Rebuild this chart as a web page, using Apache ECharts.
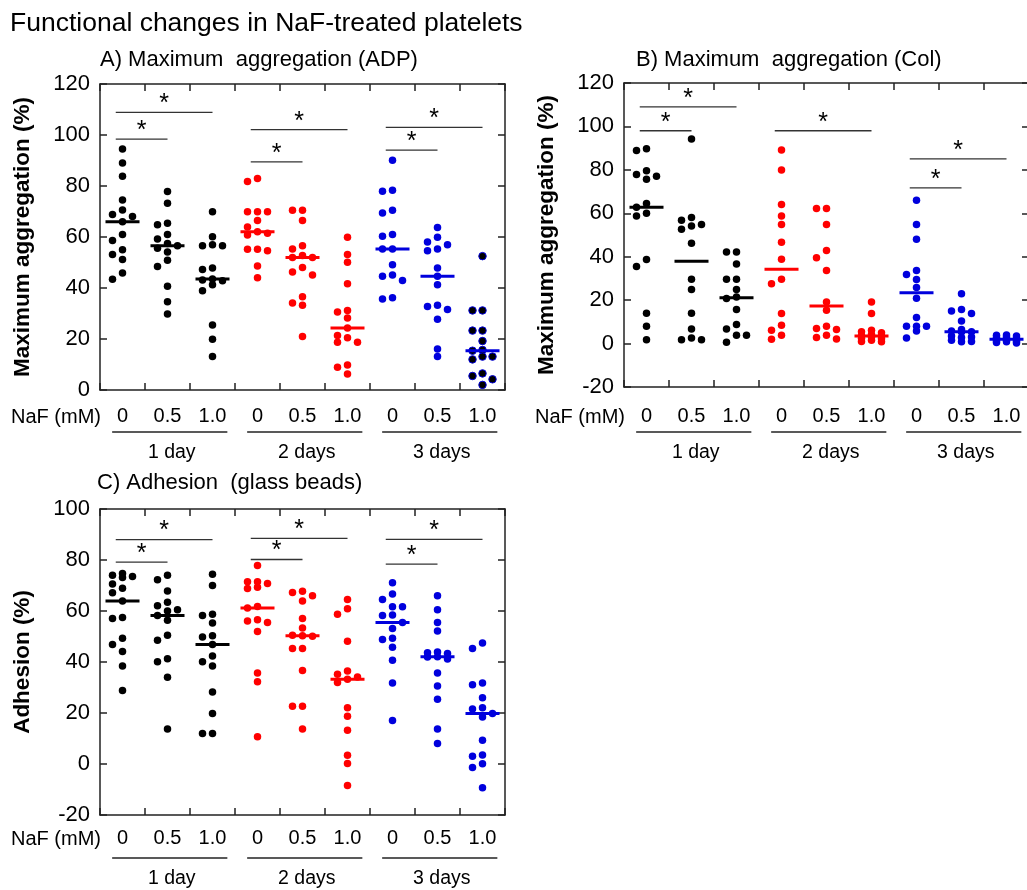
<!DOCTYPE html>
<html>
<head>
<meta charset="utf-8">
<title>Functional changes in NaF-treated platelets</title>
<script src="https://cdn.jsdelivr.net/npm/echarts/dist/echarts.min.js"></script>
<style>
  html, body { margin: 0; padding: 0; background: #fff; }
  #chart { width: 1027px; height: 890px; }
</style>
</head>
<body>
<div id="chart"></div>
<script>
// x tick labels: NaF concentration (mM), grouped by days of storage
const nafLabels = ['0', '0.5', '1.0', '0', '0.5', '1.0', '0', '0.5', '1.0'];
const dayLabels = ['1 day', '2 days', '3 days'];

// A) Maximum aggregation with ADP (%), one list per group
const aggAdp = [
  [94.5, 89.0, 83.8, 74.5, 70.6, 68.8, 68.0, 66.0, 61.0, 58.6, 55.0, 53.1, 51.2, 45.9, 43.4],
  [77.8, 73.2, 65.4, 64.8, 61.0, 59.2, 57.5, 56.6, 55.6, 54.1, 50.9, 48.4, 40.7, 34.6, 29.8],
  [69.9, 60.1, 57.0, 56.6, 56.6, 47.8, 47.3, 43.5, 43.1, 42.8, 41.3, 38.9, 25.5, 19.9, 13.1],
  [82.9, 81.8, 69.9, 69.9, 69.9, 66.5, 63.9, 62.1, 61.5, 60.8, 55.2, 55.2, 54.6, 48.6, 44.0],
  [70.5, 70.5, 66.5, 56.6, 55.3, 52.7, 52.0, 52.0, 48.0, 46.3, 45.1, 36.6, 34.1, 33.2, 21.0],
  [59.9, 53.1, 50.1, 41.7, 31.2, 30.6, 28.2, 24.3, 21.4, 20.5, 18.7, 18.7, 9.8, 8.9, 6.3],
  [90.1, 78.3, 77.9, 70.5, 69.4, 61.0, 60.3, 55.3, 55.3, 49.1, 45.1, 44.6, 42.9, 36.2, 35.7],
  [63.7, 59.9, 58.0, 57.0, 55.3, 54.6, 47.8, 44.6, 41.3, 33.2, 32.7, 31.6, 27.7, 16.1, 13.1],
  [52.5, 31.2, 31.2, 23.3, 23.3, 19.2, 15.7, 15.4, 13.1, 13.1, 12.0, 6.5, 5.5, 4.2, 2.0]
];

// B) Maximum aggregation with collagen (%)
const aggCol = [
  [89.7, 88.9, 79.6, 77.9, 77.0, 75.7, 64.5, 62.8, 60.0, 58.7, 38.7, 35.5, 14.0, 8.0, 1.8],
  [94.2, 58.1, 56.8, 54.8, 54.1, 52.7, 46.2, 29.6, 24.9, 14.0, 6.7, 2.6, 1.8, 1.8],
  [42.2, 42.2, 36.7, 29.6, 29.6, 24.9, 21.4, 20.7, 15.7, 8.8, 6.7, 3.8, 3.8, 0.6],
  [89.1, 79.9, 64.1, 58.8, 54.8, 46.7, 38.8, 29.6, 27.6, 13.8, 8.4, 6.1, 3.8, 2.0],
  [62.2, 62.2, 54.8, 42.9, 39.5, 33.6, 19.2, 15.3, 8.0, 6.9, 6.5, 3.8, 2.8, 2.1],
  [19.2, 13.8, 6.1, 5.5, 5.0, 4.2, 3.6, 3.4, 3.0, 2.5, 2.2, 1.5, 1.0, 0.8],
  [66.0, 54.8, 48.1, 33.6, 31.8, 29.5, 25.8, 20.9, 12.0, 8.0, 8.0, 8.0, 5.8, 2.6],
  [23.0, 15.7, 15.0, 13.8, 10.4, 6.5, 5.8, 5.5, 5.3, 3.5, 3.0, 2.8, 1.5, 1.0, 0.8],
  [4.0, 3.8, 3.5, 3.0, 2.8, 2.5, 2.2, 2.0, 1.8, 1.5, 1.2, 1.0, 0.8, 0.5, 0.3]
];

// C) Adhesion to glass beads (%)
const adhesion = [
  [74.7, 74.0, 73.5, 73.1, 70.6, 68.9, 67.2, 63.9, 57.5, 57.1, 49.3, 46.9, 44.1, 38.4, 28.8],
  [74.0, 72.3, 67.8, 63.4, 62.1, 60.5, 60.0, 58.2, 56.4, 50.5, 48.5, 41.3, 40.1, 34.0, 13.7],
  [74.4, 70.0, 58.7, 58.2, 55.3, 50.3, 49.8, 46.9, 42.4, 40.1, 38.4, 28.2, 19.8, 12.0, 12.0],
  [77.8, 71.5, 71.5, 70.8, 69.3, 68.8, 61.8, 61.2, 56.6, 56.1, 55.5, 52.0, 35.7, 32.3, 10.7],
  [67.7, 67.3, 66.0, 63.9, 57.1, 53.3, 50.5, 50.3, 50.1, 45.3, 45.3, 36.7, 22.6, 22.6, 13.7],
  [64.5, 60.9, 58.7, 48.1, 36.5, 35.2, 34.1, 33.2, 32.0, 22.1, 18.7, 13.2, 3.4, 0.2, -8.4],
  [71.1, 66.7, 64.5, 61.7, 61.7, 58.4, 58.2, 55.5, 53.1, 49.3, 48.8, 45.8, 40.7, 31.8, 17.1],
  [66.0, 60.5, 55.5, 52.2, 43.9, 43.6, 43.3, 42.1, 42.0, 41.2, 35.7, 30.6, 25.4, 13.7, 8.0],
  [47.5, 45.3, 31.8, 31.1, 26.0, 22.1, 21.6, 19.8, 18.4, 9.3, 3.5, 3.0, 0.1, -1.4, -9.3]
];

// significance bars: [from group, to group, height]
const sigAdp = [[0, 1, 98.4], [0, 2, 108.9], [3, 4, 89.5], [3, 5, 102.1], [6, 7, 94.1], [6, 8, 103.0]];
const sigCol = [[0, 1, 98.0], [0, 2, 109.0], [3, 5, 98.0], [6, 7, 71.7], [6, 8, 85.1]];
const sigAdh = [[0, 1, 79.2], [0, 2, 88.0], [3, 4, 80.2], [3, 5, 88.5], [6, 7, 78.4], [6, 8, 88.1]];

const FONT = "'Liberation Sans', Arial, sans-serif";
const BLACK = '#000000';
const RED = '#ff0000';
const BLUE = '#0000dd';
const groupColors = [BLACK, BLACK, BLACK, RED, RED, RED, BLUE, BLUE, BLUE];
const AXIS = '#222';

const panels = [
  {
    title: 'A) Maximum  aggregation (ADP)', yName: 'Maximum aggregation (%)',
    data: aggAdp, sig: sigAdp, min: 0, max: 120,
    left: 100, top: 84, width: 405, height: 306,
    labelGap: 16, lineOff: 42, dayOff: 63, titleX: 100, titleY: 62
  },
  {
    title: 'B) Maximum  aggregation (Col)', yName: 'Maximum aggregation (%)',
    data: aggCol, sig: sigCol, min: -20, max: 120,
    left: 624, top: 83, width: 405, height: 304,
    labelGap: 19, lineOff: 45, dayOff: 66, titleX: 636, titleY: 62
  },
  {
    title: 'C) Adhesion  (glass beads)', yName: 'Adhesion (%)',
    data: adhesion, sig: sigAdh, min: -20, max: 100,
    left: 100, top: 509, width: 405, height: 306,
    labelGap: 13, lineOff: 43, dayOff: 64, titleX: 97, titleY: 485
  }
];

function median(vals) {
  const s = vals.slice().sort((a, b) => a - b);
  const m = Math.floor(s.length / 2);
  return s.length % 2 ? s[m] : (s[m - 1] + s[m]) / 2;
}

// simple beeswarm over three lanes; crowded dots go where the gap is widest
function swarm(vals, pxPerUnit) {
  const order = vals.map((v, i) => i).sort((a, b) => vals[b] - vals[a]);
  const sep = 7.5 / pxPerUnit;
  const last = {};
  const lanes = [];
  order.forEach(i => {
    let lane = null, bestGap = -1, bestLane = 0;
    for (const l of [0, -1, 1]) {
      const gap = last[l] === undefined ? Infinity : last[l] - vals[i];
      if (gap >= sep) { lane = l; break; }
      if (gap > bestGap) { bestGap = gap; bestLane = l; }
    }
    if (lane === null) lane = bestLane;
    lanes[i] = lane;
    last[lane] = vals[i];
  });
  return lanes;
}

const grid = [], xAxis = [], yAxis = [], series = [], graphic = [];

graphic.push({
  type: 'text', left: 10, top: 10,
  style: { text: 'Functional changes in NaF-treated platelets', font: '26.5px ' + FONT, fill: '#000' }
});

panels.forEach((p, pi) => {
  const lineStyle = { color: AXIS, width: 1.5 };
  const tick = { show: true, inside: true, length: 7, lineStyle: lineStyle };
  grid.push({ left: p.left, top: p.top, width: p.width, height: p.height, outerBoundsMode: 'none' });

  xAxis.push({
    gridIndex: pi, type: 'category', position: 'bottom', data: nafLabels, boundaryGap: true,
    axisLine: { show: true, onZero: false, lineStyle: lineStyle }, axisTick: tick,
    axisLabel: { interval: 0, color: '#000', fontSize: 20, fontFamily: FONT, margin: p.labelGap },
    splitLine: { show: false }
  });
  xAxis.push({
    gridIndex: pi, type: 'category', position: 'top', data: nafLabels, boundaryGap: true,
    axisLine: { show: true, onZero: false, lineStyle: lineStyle }, axisTick: tick,
    axisLabel: { show: false }, splitLine: { show: false }
  });
  xAxis.push({ gridIndex: pi, type: 'value', min: 0, max: 9, show: false, axisLine: { onZero: false } });

  yAxis.push({
    gridIndex: pi, type: 'value', position: 'left', min: p.min, max: p.max, interval: 20,
    name: p.yName, nameLocation: 'middle', nameGap: 66,
    nameTextStyle: { color: '#000', fontSize: 22.5, fontWeight: 'bold', fontFamily: FONT },
    axisLine: { show: true, onZero: false, lineStyle: lineStyle }, axisTick: tick,
    axisLabel: { color: '#000', fontSize: 22, fontFamily: FONT, margin: 10 },
    splitLine: { show: false }
  });
  yAxis.push({
    gridIndex: pi, type: 'value', position: 'right', min: p.min, max: p.max, interval: 20,
    axisLine: { show: true, onZero: false, lineStyle: lineStyle }, axisTick: tick,
    axisLabel: { show: false }, splitLine: { show: false }
  });

  const xi = pi * 3 + 2, yi = pi * 2;
  const pxPerUnit = p.height / (p.max - p.min);
  const laneW = 10 / (p.width / 9);

  p.data.forEach((vals, g) => {
    const lanes = swarm(vals, pxPerUnit);
    const dotStyle = (pi === 0 && g === 8)
      ? { color: BLACK, borderColor: BLUE, borderWidth: 1, opacity: 1 }
      : { color: groupColors[g], opacity: 1 };
    series.push({
      type: 'scatter', xAxisIndex: xi, yAxisIndex: yi, symbolSize: 7.5, silent: true, z: 3,
      itemStyle: dotStyle,
      data: vals.map((v, i) => [g + 0.5 + lanes[i] * laneW, v])
    });
    series.push({
      type: 'scatter', xAxisIndex: xi, yAxisIndex: yi, symbol: 'rect', symbolSize: [34, 3],
      silent: true, z: 4, itemStyle: { color: groupColors[g], opacity: 1 },
      data: [[g + 0.5, median(vals)]]
    });
  });

  // significance bars with asterisks
  series.push({
    type: 'custom', xAxisIndex: xi, yAxisIndex: yi, silent: true, z: 5,
    encode: { x: [0, 1], y: 2 },
    data: p.sig,
    renderItem: (params, api) => {
      const a = api.coord([api.value(0) + 0.35, api.value(2)]);
      const b = api.coord([api.value(1) + 0.5, api.value(2)]);
      return {
        type: 'group', children: [
          { type: 'line', shape: { x1: a[0], y1: a[1], x2: b[0], y2: b[1] },
            style: { stroke: '#333', lineWidth: 1.3 } },
          { type: 'text', x: (a[0] + b[0]) / 2, y: a[1] - 8,
            style: { text: '*', fill: '#000', font: '25px ' + FONT, align: 'center', verticalAlign: 'middle' } }
        ]
      };
    }
  });

  // day group underline and label
  series.push({
    type: 'custom', xAxisIndex: xi, yAxisIndex: yi, silent: true, z: 5,
    encode: { x: 0, y: 1 },
    data: dayLabels.map((d, i) => [i * 3 + 1.5, p.min, i]),
    renderItem: (params, api) => {
      const g = api.value(2);
      const a = api.coord([g * 3 + 0.27, p.min]);
      const b = api.coord([g * 3 + 2.83, p.min]);
      return {
        type: 'group', children: [
          { type: 'line', shape: { x1: a[0], y1: a[1] + p.lineOff, x2: b[0], y2: a[1] + p.lineOff },
            style: { stroke: AXIS, lineWidth: 1.5 } },
          { type: 'text', x: (a[0] + b[0]) / 2 + 2, y: a[1] + p.dayOff,
            style: { text: dayLabels[g], fill: '#000', font: '19.5px ' + FONT, align: 'center', verticalAlign: 'middle' } }
        ]
      };
    }
  });

  graphic.push({
    type: 'text', left: p.titleX, top: p.titleY - 13,
    style: { text: p.title, font: '22px ' + FONT, fill: '#000' }
  });
  graphic.push({
    type: 'text', x: p.left + 1, y: p.top + p.height + p.labelGap + 11,
    style: { text: 'NaF (mM)', font: '20px ' + FONT, fill: '#000', align: 'right', verticalAlign: 'middle' }
  });
});

const chart = echarts.init(document.getElementById('chart'), null, { renderer: 'canvas' });
chart.setOption({
  backgroundColor: '#fff',
  animation: false,
  grid: grid,
  xAxis: xAxis,
  yAxis: yAxis,
  series: series,
  graphic: graphic
});
</script>
</body>
</html>
